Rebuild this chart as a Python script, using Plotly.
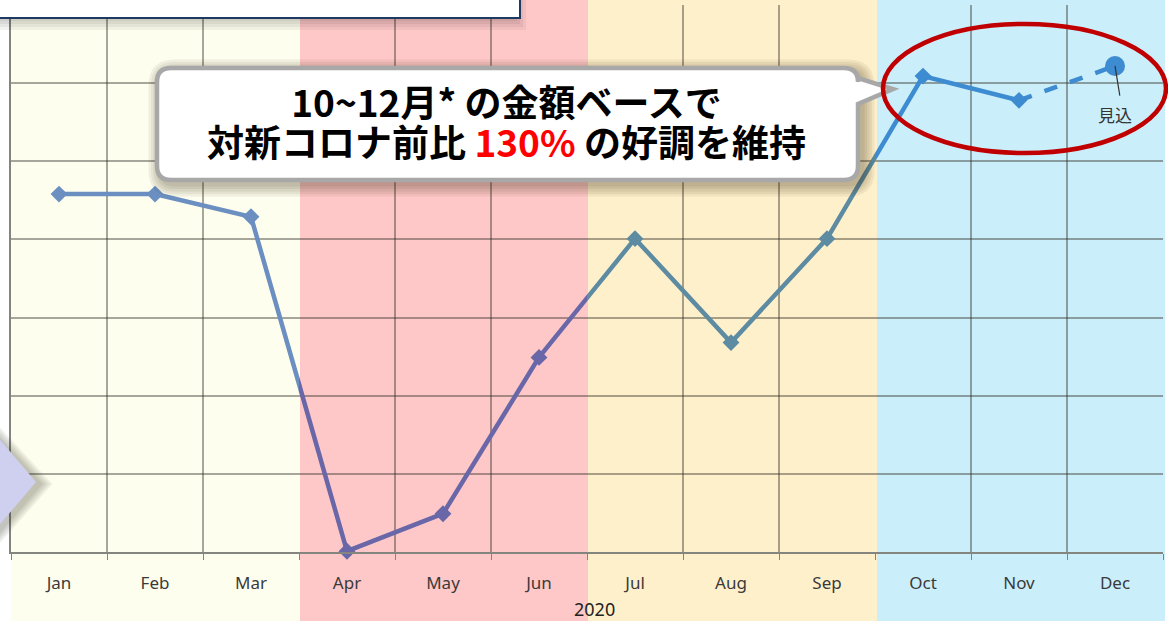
import plotly.graph_objects as go

# ---------------- data ----------------
months = ["Jan", "Feb", "Mar", "Apr", "May", "Jun",
          "Jul", "Aug", "Sep", "Oct", "Nov", "Dec"]
values = [45.8, 45.8, 42.9, 0.1, 4.9, 24.9, 40.1, 26.8, 40.1, 60.9, 57.8, 62.2]
year_label = "2020"
forecast_label = "見込"
callout_line1 = "10~12月* の金額ベースで"
callout_line2_a = "対新コロナ前比 "
callout_line2_b = "130%"
callout_line2_c = " の好調を維持"

# ---------------- styles ----------------
W, H = 1168, 621
ML, MR, MT, MB = 11, 5, 5, 69
PW = W - ML - MR
PH = H - MT - MB

band_colors = ["#FEFEEF", "#FFC8C8", "#FFF0CC", "#CBEEFB"]
line_colors = ["#6A8FC0", "#6967A8", "#5C8BA2", "#3D8BD0"]
grid_col = "rgba(45,45,35,0.42)"
axis_col = "#858580"


def px(x):
    return (x - ML) / PW


def py(y):
    return (H - MB - y) / PH


def path_from(points_cmds):
    out = []
    for cmd, pts in points_cmds:
        coords = " ".join(f"{px(a):.5f},{py(b):.5f}" for a, b in pts)
        out.append(f"{cmd}{coords}")
    return " ".join(out) + " Z"


def rounded_rect(x0, y0, x1, y1, r, pointer=None):
    cmds = [("M", [(x0 + r, y0)]), ("L", [(x1 - r, y0)]),
            ("Q", [(x1, y0), (x1, y0 + r)])]
    if pointer:
        for p in pointer:
            cmds.append(("L", [p]))
    cmds += [("L", [(x1, y1 - r)]), ("Q", [(x1, y1), (x1 - r, y1)]),
             ("L", [(x0 + r, y1)]), ("Q", [(x0, y1), (x0, y1 - r)]),
             ("L", [(x0, y0 + r)]), ("Q", [(x0, y0), (x0 + r, y0)])]
    return path_from(cmds)


fig = go.Figure()
idx = list(range(len(months)))

for k in range(4):
    xa = "x" if k == 0 else f"x{k + 1}"
    # solid line Jan..Nov (clipped to this quarter)
    fig.add_trace(go.Scatter(
        x=idx[:11], y=values[:11], xaxis=xa, yaxis="y", mode="lines",
        line=dict(color=line_colors[k], width=4.5), hoverinfo="skip",
        showlegend=False))
    # dashed forecast Nov->Dec
    fig.add_trace(go.Scatter(
        x=idx[10:12], y=values[10:12], xaxis=xa, yaxis="y", mode="lines",
        line=dict(color=line_colors[k], width=4.5, dash="dash"),
        hoverinfo="skip", showlegend=False))
    # diamond markers in this quarter
    sel = [i for i in range(3 * k, 3 * k + 3) if i < 11]
    fig.add_trace(go.Scatter(
        x=[idx[i] for i in sel], y=[values[i] for i in sel], xaxis=xa,
        yaxis="y", mode="markers", cliponaxis=False,
        marker=dict(symbol="diamond", size=13, color=line_colors[k]),
        showlegend=False))

# Dec forecast circle
fig.add_trace(go.Scatter(
    x=[idx[11]], y=[values[11]], xaxis="x4", yaxis="y", mode="markers",
    cliponaxis=False, marker=dict(symbol="circle", size=20, color=line_colors[3]),
    showlegend=False))

axis_common = dict(
    showline=True, linecolor=axis_col, linewidth=1.5,
    ticks="outside", ticklen=15, tickcolor="rgba(0,0,0,0)",
    tickfont=dict(family="Noto Sans", size=17, color="#3A3A3A"),
    showgrid=False, zeroline=False, fixedrange=True,
)
layout_axes = {}
for k in range(4):
    name = "xaxis" if k == 0 else f"xaxis{k + 1}"
    lo, hi = 3 * k - 0.5, 3 * k + 2.5
    layout_axes[name] = dict(
        axis_common, domain=[k * 0.25, (k + 1) * 0.25], range=[lo, hi],
        anchor="y", tickmode="array", tickvals=idx[3 * k:3 * k + 3],
        ticktext=months[3 * k:3 * k + 3],
        minor=dict(tickmode="array", tickvals=[lo + j for j in range(4)],
                   ticks="outside", ticklen=6, tickcolor=axis_col,
                   showgrid=True, gridcolor=grid_col, gridwidth=1.5),
    )

fig.update_layout(
    width=W, height=H,
    margin=dict(l=ML, r=MR, t=MT, b=MB, pad=0),
    paper_bgcolor="white", plot_bgcolor="rgba(0,0,0,0)",
    showlegend=False,
    yaxis=dict(domain=[0, 1], range=[0, 70], dtick=10, anchor="x",
               showgrid=True, gridcolor=grid_col, gridwidth=1.5,
               showticklabels=False, ticks="", showline=True,
               linecolor=axis_col, linewidth=1.5, zeroline=False,
               fixedrange=True),
    **layout_axes,
)

shapes = []
# background quarter bands, extending over the whole page height
band_edges = [11, 300, 588, 877, 1165]
for k in range(4):
    shapes.append(dict(type="rect", xref="paper", yref="paper",
                       x0=px(band_edges[k]), x1=px(band_edges[k + 1]),
                       y0=py(H), y1=py(0), fillcolor=band_colors[k],
                       line=dict(width=0), layer="below"))

# top-left title box shadow + box
for i in range(4):
    e = 3 * (i + 1)
    shapes.append(dict(type="rect", xref="paper", yref="paper",
                       x0=px(-10), x1=px(522 + e - 8), y0=py(-10),
                       y1=py(18 + e), fillcolor="black", opacity=0.05,
                       line=dict(width=0), layer="above"))
shapes.append(dict(type="rect", xref="paper", yref="paper",
                   x0=px(-10), x1=px(520), y0=py(-10), y1=py(18),
                   fillcolor="white", line=dict(color="#1F3A62", width=2),
                   layer="above"))

# left lavender arrow with soft shadow
for i in range(5):
    e = 2.5 * (i + 1)
    shapes.append(dict(type="path", xref="paper", yref="paper",
                       path=path_from([("M", [(-10, 426 - e + 3)]),
                                       ("L", [(40 + e, 484)]),
                                       ("L", [(-10, 542 + e)])]),
                       fillcolor="#202010", opacity=0.06, line=dict(width=0),
                       layer="above"))
shapes.append(dict(type="path", xref="paper", yref="paper",
                   path=path_from([("M", [(-10, 428)]), ("L", [(36, 482)]),
                                   ("L", [(-10, 536)])]),
                   fillcolor="#CFCFEF", line=dict(width=0), layer="above"))

# callout shadow layers
for i in range(5):
    e = 2.5 * (i + 1)
    shapes.append(dict(type="path", xref="paper", yref="paper",
                       path=rounded_rect(157 - e + 4, 68 - e + 4, 858 + e + 4,
                                         180 + e + 4, 14 + e),
                       fillcolor="#3A3010", opacity=0.07, line=dict(width=0),
                       layer="above"))
# callout body with pointer
shapes.append(dict(type="path", xref="paper", yref="paper",
                   path=rounded_rect(157, 68, 858, 180, 14,
                                     pointer=[(858, 78), (893, 89), (858, 104)]),
                   fillcolor="white", line=dict(color="#A8A8A8", width=4.5),
                   layer="above"))

# red ellipse
shapes.append(dict(type="circle", xref="paper", yref="paper",
                   x0=px(883), x1=px(1166), y0=py(153), y1=py(24),
                   line=dict(color="#C00000", width=4.5),
                   fillcolor="rgba(0,0,0,0)", layer="above"))

# leader line for forecast label
shapes.append(dict(type="line", xref="x4", yref="y",
                   x0=idx[11], y0=values[11],
                   x1=idx[11] + 0.05, y1=values[11] - 3.8,
                   line=dict(color="#333333", width=1.2), layer="above"))

fig.update_layout(shapes=shapes)

cjk = "Noto Sans CJK JP"
big = "font-size:37px"
annotations = [
    dict(xref="paper", yref="paper", x=px(506), y=py(121),
         text=(f"<span style='{big}'><b>{callout_line1}</b></span><br>"
               f"<span style='{big}'><b>{callout_line2_a}"
               f"<span style='color:#FF0000'>{callout_line2_b}</span>"
               f"{callout_line2_c}</b></span>"),
         showarrow=False, align="center",
         font=dict(family=cjk, size=31, color="black"),
         xanchor="center", yanchor="middle"),
    dict(xref="x4", yref="y", x=idx[11], y=values[11] - 6.2,
         text=forecast_label, showarrow=False,
         font=dict(family=cjk, size=17, color="#333333"),
         xanchor="center", yanchor="middle"),
    dict(xref="paper", yref="paper", x=px(594), y=py(609),
         text=year_label, showarrow=False,
         font=dict(family="Noto Sans", size=18, color="#222222"),
         xanchor="center", yanchor="middle"),
]
fig.update_layout(annotations=annotations)

fig.write_html("out.html", config={"displayModeBar": False},
               post_script="document.body.style.margin='0';"
                           "document.body.style.overflow='hidden';")
